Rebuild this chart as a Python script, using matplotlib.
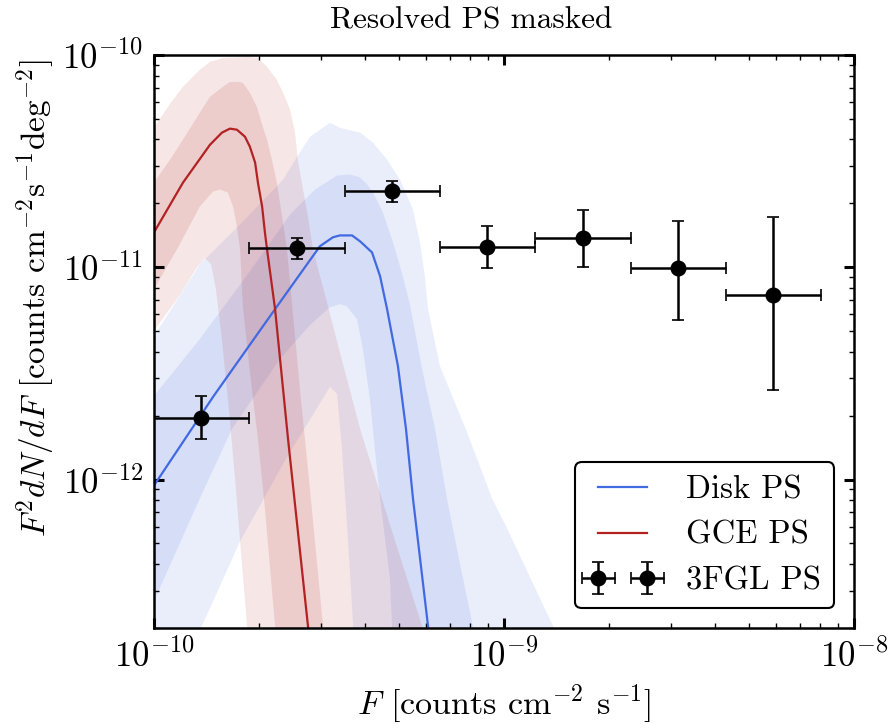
import numpy as np
import matplotlib
matplotlib.use("Agg")
import matplotlib.pyplot as plt

plt.rcParams.update({
    "font.family": "serif",
    "font.serif": ["cmr10"],
    "mathtext.fontset": "cm",
    "axes.unicode_minus": False,
    "axes.formatter.use_mathtext": True,
})

# Source-count bands, stored as log10(F) and log10(F^2 dN/dF) along each edge
gce_up95_lf = [-10.000, -9.954, -9.917, -9.869, -9.840, -9.803, -9.726, -9.703, -9.677, -9.649, -9.631, -9.611,
               -9.597, -9.589, -9.574, -9.560, -9.546, -9.511, -9.469, -9.411, -9.326, -9.234, -9.206]
gce_up95_ly = [-10.343, -10.230, -10.150, -10.070, -10.033, -10.014, -10.009, -10.014, -10.056, -10.117, -10.178,
               -10.258, -10.366, -10.493, -10.634, -10.761, -10.915, -11.131, -11.399, -11.761, -12.211, -12.690, -12.840]
gce_up68_lf = [-10.000, -9.954, -9.917, -9.869, -9.840, -9.803, -9.783, -9.760, -9.746, -9.726, -9.706, -9.689,
               -9.677, -9.663, -9.649, -9.634, -9.620, -9.583, -9.549, -9.517, -9.509]
gce_up68_ly = [-10.601, -10.493, -10.399, -10.272, -10.197, -10.150, -10.127, -10.127, -10.131, -10.178, -10.244,
               -10.338, -10.399, -10.493, -10.601, -10.761, -10.915, -11.573, -12.136, -12.690, -12.840]
gce_med_lf = [-10.000, -9.917, -9.840, -9.806, -9.783, -9.763, -9.740, -9.726, -9.711, -9.703, -9.691, -9.683,
              -9.677, -9.654, -9.617, -9.560, -9.551]
gce_med_ly = [-10.836, -10.601, -10.423, -10.366, -10.347, -10.352, -10.385, -10.432, -10.507, -10.601, -10.714,
              -10.836, -10.915, -11.197, -11.808, -12.690, -12.840]
gce_lo68_lf = [-10.000, -9.934, -9.869, -9.831, -9.811, -9.789, -9.774, -9.763, -9.754, -9.746, -9.726, -9.703,
               -9.683, -9.654, -9.646]
gce_lo68_ly = [-11.103, -10.915, -10.714, -10.643, -10.634, -10.648, -10.714, -10.808, -10.915, -11.183, -11.493,
               -11.808, -12.136, -12.690, -12.840]
gce_lo95_lf = [-10.000, -9.926, -9.877, -9.854, -9.837, -9.823, -9.806, -9.786, -9.766, -9.754, -9.734, -9.726]
gce_lo95_ly = [-11.300, -11.131, -11.000, -10.958, -10.986, -11.103, -11.338, -11.667, -12.042, -12.291, -12.690,
               -12.840]

disk_up95_lf = [-10.000, -9.869, -9.754, -9.631, -9.591, -9.554, -9.497, -9.469, -9.411, -9.374, -9.334, -9.297,
                -9.260, -9.240, -9.226, -9.217, -9.183, -9.106, -9.034, -8.991, -8.860, -8.817]
disk_up95_ly = [-11.324, -10.986, -10.798, -10.587, -10.479, -10.385, -10.319, -10.343, -10.366, -10.413, -10.493,
                -10.587, -10.728, -10.883, -11.042, -11.197, -11.465, -11.775, -12.089, -12.230, -12.690, -12.840]
disk_up68_lf = [-10.000, -9.869, -9.726, -9.611, -9.540, -9.477, -9.440, -9.411, -9.391, -9.374, -9.346, -9.317,
                -9.289, -9.269, -9.234, -9.197, -9.163, -9.126, -9.089, -9.074]
disk_up68_ly = [-11.606, -11.338, -11.019, -10.751, -10.634, -10.568, -10.563, -10.577, -10.610, -10.648, -10.742,
                -10.883, -11.042, -11.174, -11.479, -11.761, -12.089, -12.394, -12.690, -12.840]
disk_med_lf = [-10.000, -9.831, -9.660, -9.526, -9.489, -9.469, -9.434, -9.411, -9.377, -9.354, -9.334, -9.320,
               -9.303, -9.280, -9.260, -9.217, -9.206]
disk_med_ly = [-12.028, -11.610, -11.211, -10.901, -10.859, -10.850, -10.850, -10.878, -10.930, -11.042, -11.197,
               -11.319, -11.465, -11.761, -12.089, -12.690, -12.840]
disk_lo68_lf = [-10.000, -9.869, -9.777, -9.640, -9.554, -9.497, -9.469, -9.449, -9.420, -9.403, -9.383, -9.369,
                -9.354, -9.326, -9.320, -9.311]
disk_lo68_ly = [-12.573, -12.089, -11.761, -11.432, -11.272, -11.188, -11.174, -11.183, -11.244, -11.385, -11.620,
                -11.854, -12.089, -12.465, -12.690, -12.840]
disk_lo95_lf = [-10.000, -9.863, -9.754, -9.626, -9.497, -9.477, -9.463, -9.446, -9.431, -9.423]
disk_lo95_ly = [-13.192, -12.690, -12.291, -11.911, -11.563, -11.596, -11.854, -12.277, -12.690, -12.840]

# 3FGL resolved sources
fgl_edges = [1.0e-10, 1.866e-10, 3.516e-10, 6.56e-10, 1.227e-9, 2.307e-9, 4.305e-9, 8.05e-9]
fgl_y = [1.95e-12, 1.23e-11, 2.28e-11, 1.24e-11, 1.38e-11, 9.9e-12, 7.4e-12]
fgl_y_hi = [2.48e-12, 1.37e-11, 2.54e-11, 1.56e-11, 1.87e-11, 1.66e-11, 1.72e-11]
fgl_y_lo = [1.56e-12, 1.09e-11, 2.02e-11, 0.99e-11, 1.0e-11, 5.64e-12, 2.65e-12]

disk_color = "royalblue"
gce_color = "firebrick"


def fill_band(ax, up_lf, up_ly, lo_lf, lo_ly, color, alpha):
    xs = np.concatenate([up_lf, lo_lf[::-1]])
    ys = np.concatenate([up_ly, lo_ly[::-1]])
    ax.fill(10 ** xs, 10 ** ys, color=color, alpha=alpha, lw=0)


fig = plt.figure(figsize=(8.92, 7.28), dpi=100)
ax = fig.add_axes([0.1726, 0.1374, 0.7848, 0.7871])
ax.set_xscale("log")
ax.set_yscale("log")

fill_band(ax, disk_up95_lf, disk_up95_ly, disk_lo95_lf, disk_lo95_ly, disk_color, 0.11)
fill_band(ax, disk_up68_lf, disk_up68_ly, disk_lo68_lf, disk_lo68_ly, disk_color, 0.12)
fill_band(ax, gce_up95_lf, gce_up95_ly, gce_lo95_lf, gce_lo95_ly, gce_color, 0.11)
fill_band(ax, gce_up68_lf, gce_up68_ly, gce_lo68_lf, gce_lo68_ly, gce_color, 0.13)

ax.plot(10 ** np.array(disk_med_lf), 10 ** np.array(disk_med_ly), color=disk_color, lw=1.6, label="Disk PS")
ax.plot(10 ** np.array(gce_med_lf), 10 ** np.array(gce_med_ly), color=gce_color, lw=1.6, label="GCE PS")

edges = np.array(fgl_edges)
centers = np.sqrt(edges[:-1] * edges[1:])
yv = np.array(fgl_y)
ax.errorbar(centers, yv,
            xerr=[centers - edges[:-1], edges[1:] - centers],
            yerr=[yv - np.array(fgl_y_lo), np.array(fgl_y_hi) - yv],
            fmt="o", color="black", ms=10.5, elinewidth=1.8, capsize=4.5, capthick=1.2,
            label="3FGL PS")

ax.set_xlim(1e-10, 1e-8)
ax.set_ylim(2e-13, 1e-10)

ax.tick_params(which="both", direction="in", top=True, right=True, labelsize=25)
ax.tick_params(which="major", length=7, width=2.2, pad=8)
ax.tick_params(which="minor", length=3.5, width=1.0)
for spine in ax.spines.values():
    spine.set_linewidth(1.8)

ax.set_xlabel(r"$F$ [counts cm$^{-2}$ s$^{-1}$]", fontsize=24.5, labelpad=6)
ax.set_ylabel(r"$F^2 dN/dF$ [counts cm$^{-2}$s$^{-1}$deg$^{-2}$]", fontsize=24, labelpad=4)
ax.yaxis.label.set_y(0.575)
ax.set_title("Resolved PS masked", fontsize=22.5, x=0.453, pad=19)

leg = ax.legend(loc="lower right", fontsize=23.5, numpoints=2, fancybox=True, framealpha=1,
                borderaxespad=0.6, handlelength=2.1, handletextpad=0.9)
leg.get_frame().set_edgecolor("black")
leg.get_frame().set_linewidth(1.5)

fig.savefig("out.png", dpi=100)
